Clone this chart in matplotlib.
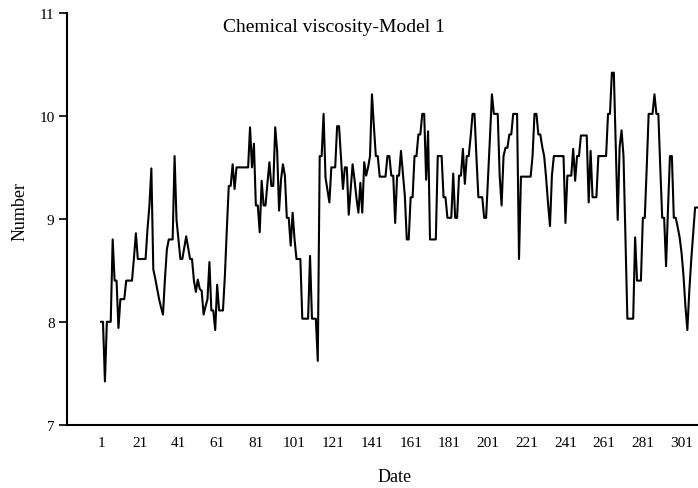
import numpy as np
import matplotlib
matplotlib.use("Agg")
import matplotlib.pyplot as plt

plt.rcParams['font.family'] = ['Liberation Serif', 'DejaVu Serif']

# values, one per date index (1..309)
viscosity = [
    8.0, 8.0, 7.42, 8.0, 8.0, 8.0, 8.8, 8.4, 8.4, 7.94,
    8.22, 8.22, 8.22, 8.4, 8.4, 8.4, 8.4, 8.62, 8.86, 8.61,
    8.61, 8.61, 8.61, 8.61, 8.9, 9.13, 9.49, 8.51, 8.42, 8.32,
    8.22, 8.14, 8.07, 8.41, 8.7, 8.8, 8.8, 8.8, 9.61, 8.99,
    8.8, 8.61, 8.61, 8.72, 8.83, 8.72, 8.61, 8.61, 8.4, 8.29,
    8.41, 8.32, 8.3, 8.07, 8.15, 8.22, 8.58, 8.11, 8.11, 7.92,
    8.36, 8.11, 8.11, 8.11, 8.45, 8.9, 9.32, 9.32, 9.53, 9.29,
    9.5, 9.5, 9.5, 9.5, 9.5, 9.5, 9.5, 9.89, 9.5, 9.73,
    9.13, 9.13, 8.87, 9.37, 9.13, 9.13, 9.35, 9.55, 9.32, 9.32,
    9.89, 9.66, 9.08, 9.38, 9.53, 9.42, 9.01, 9.01, 8.74, 9.06,
    8.8, 8.61, 8.61, 8.61, 8.03, 8.03, 8.03, 8.03, 8.64, 8.03,
    8.03, 8.03, 7.62, 9.61, 9.61, 10.02, 9.4, 9.28, 9.16, 9.5,
    9.5, 9.5, 9.9, 9.9, 9.6, 9.29, 9.5, 9.5, 9.04, 9.28,
    9.53, 9.38, 9.2, 9.06, 9.35, 9.06, 9.55, 9.42, 9.5, 9.61,
    10.21, 9.9, 9.61, 9.61, 9.41, 9.41, 9.41, 9.41, 9.61, 9.61,
    9.42, 9.42, 8.96, 9.42, 9.42, 9.66, 9.44, 9.22, 8.8, 8.8,
    9.21, 9.21, 9.61, 9.61, 9.82, 9.82, 10.02, 10.02, 9.38, 9.85,
    8.8, 8.8, 8.8, 8.8, 9.61, 9.61, 9.61, 9.21, 9.21, 9.01,
    9.01, 9.01, 9.44, 9.01, 9.01, 9.42, 9.42, 9.68, 9.34, 9.61,
    9.61, 9.8, 10.02, 10.02, 9.6, 9.21, 9.21, 9.21, 9.01, 9.01,
    9.4, 9.8, 10.21, 10.02, 10.02, 10.02, 9.42, 9.13, 9.61, 9.69,
    9.69, 9.82, 9.82, 10.02, 10.02, 10.02, 8.61, 9.41, 9.41, 9.41,
    9.41, 9.41, 9.41, 9.61, 10.02, 10.02, 9.82, 9.82, 9.7, 9.61,
    9.4, 9.15, 8.93, 9.42, 9.61, 9.61, 9.61, 9.61, 9.61, 9.61,
    8.96, 9.42, 9.42, 9.42, 9.68, 9.37, 9.61, 9.61, 9.81, 9.81,
    9.81, 9.81, 9.16, 9.66, 9.21, 9.21, 9.21, 9.61, 9.61, 9.61,
    9.61, 9.61, 10.02, 10.02, 10.42, 10.42, 9.7, 8.99, 9.7, 9.86,
    9.61, 8.8, 8.03, 8.03, 8.03, 8.03, 8.82, 8.4, 8.4, 8.4,
    9.01, 9.01, 9.5, 10.02, 10.02, 10.02, 10.21, 10.02, 10.02, 9.5,
    9.01, 9.01, 8.54, 9.1, 9.61, 9.61, 9.01, 9.01, 8.92, 8.82,
    8.67, 8.45, 8.15, 7.92, 8.3, 8.6, 8.85, 9.11, 9.11,
]
dates = np.arange(1, len(viscosity) + 1)
x_ticks = list(range(1, 302, 20))
y_ticks = [7, 8, 9, 10, 11]

fig = plt.figure(figsize=(6.98, 4.89), dpi=100)
ax = fig.add_axes([67 / 698, 1 - 425.7 / 489, 631 / 698, (425.7 - 14) / 489])

ax.plot(dates, viscosity, color='black', lw=1.5)

ax.set_xlim(-16.6, 309.5)
ax.set_ylim(7, 11)
ax.set_xticks(x_ticks)
ax.set_xticklabels([str(t) for t in x_ticks])
ax.set_yticks(y_ticks)
ax.tick_params(axis='x', length=0, pad=8, labelsize=11)
ax.tick_params(axis='y', length=6, width=1.2, direction='out', pad=3, labelsize=11)
# single visible tick on the x axis
ax.set_xticks([301], minor=True)
ax.tick_params(axis='x', which='minor', length=5, width=1.2, direction='out')

ax.spines['top'].set_visible(False)
ax.spines['right'].set_visible(False)
for s in ['left', 'bottom']:
    ax.spines[s].set_linewidth(1.5)

fig.text(334 / 698, 1 - 28 / 489, "Chemical viscosity-Model 1", fontsize=14,
         ha='center', va='center')
fig.text(395 / 698, 1 - 478 / 489, "Date", fontsize=13, ha='center', va='center')
fig.text(20 / 698, 1 - 212 / 489, "Number", fontsize=13, ha='center', va='center',
         rotation=90)

fig.savefig("out.png", dpi=100)
